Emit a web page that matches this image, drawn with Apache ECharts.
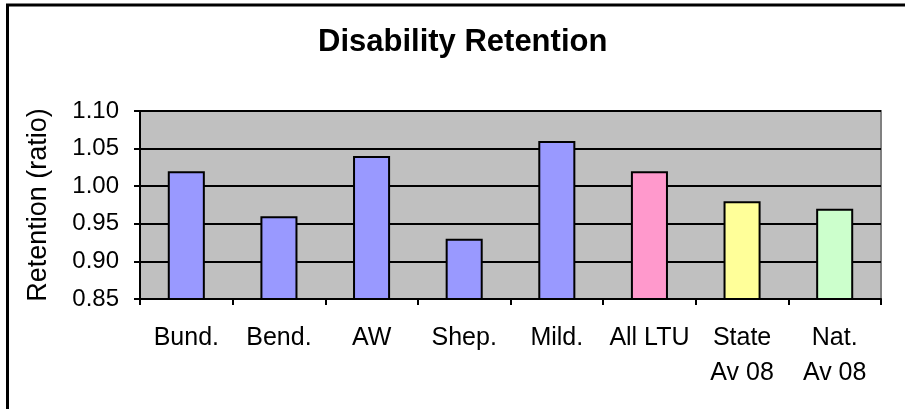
<!DOCTYPE html>
<html>
<head>
<meta charset="utf-8">
<script src="https://cdn.jsdelivr.net/npm/echarts@6/dist/echarts.min.js"></script>
<style>
  html, body { margin: 0; padding: 0; background: #fff; }
  #chart { width: 905px; height: 409px; }
</style>
</head>
<body>
<div id="chart"></div>
<script>
// Retention ratio by group
const categories = ['Bund.', 'Bend.', 'AW', 'Shep.', 'Mild.', 'All LTU', 'State\nAv 08', 'Nat.\nAv 08'];
const retention = [1.02, 0.96, 1.04, 0.93, 1.06, 1.02, 0.98, 0.97];
const barColors = ['#9999FF', '#9999FF', '#9999FF', '#9999FF', '#9999FF', '#FF99CC', '#FFFF99', '#CCFFCC'];

const FONT = '"Liberation Sans", Arial, sans-serif';
const chart = echarts.init(document.getElementById('chart'), null, { renderer: 'canvas' });

chart.setOption({
  animation: false,
  backgroundColor: '#ffffff',
  title: {
    text: 'Disability Retention',
    left: 313,
    top: 22,
    textStyle: { fontFamily: FONT, fontSize: 31, fontWeight: 'bold', color: '#000' }
  },
  graphic: [
    // chart frame
    { type: 'rect', shape: { x: 7.5, y: 5, width: 1000, height: 500 },
      style: { fill: 'none', stroke: '#000', lineWidth: 3 }, silent: true }
  ],
  grid: {
    left: 140, top: 111, right: 24, bottom: 110,
    show: true, backgroundColor: '#C0C0C0', borderColor: '#808080', borderWidth: 2
  },
  xAxis: {
    type: 'category',
    data: categories,
    axisLine: { lineStyle: { color: '#000', width: 2 } },
    axisTick: { show: true, length: 6, alignWithLabel: false, lineStyle: { color: '#000', width: 2 } },
    axisLabel: { fontFamily: FONT, fontSize: 25, color: '#000', margin: 22, lineHeight: 35, interval: 0 },
    splitLine: { show: false }
  },
  yAxis: {
    type: 'value',
    min: 0.85, max: 1.10, interval: 0.05,
    name: 'Retention (ratio)',
    nameLocation: 'middle',
    nameGap: 88,
    nameTextStyle: { fontFamily: FONT, fontSize: 27, color: '#000' },
    axisLine: { show: true, lineStyle: { color: '#000', width: 2 } },
    axisTick: { show: true, length: 6, lineStyle: { color: '#000', width: 2 } },
    axisLabel: { fontFamily: FONT, fontSize: 24, color: '#000', margin: 21,
                 formatter: v => v.toFixed(2) },
    splitLine: { show: true, lineStyle: { color: '#000', width: 2 } }
  },
  series: [{
    type: 'bar',
    data: retention.map((v, i) => ({ value: v, itemStyle: { color: barColors[i] } })),
    barWidth: '40%',
    itemStyle: { borderColor: '#000', borderWidth: 2 }
  }]
});
</script>
</body>
</html>
